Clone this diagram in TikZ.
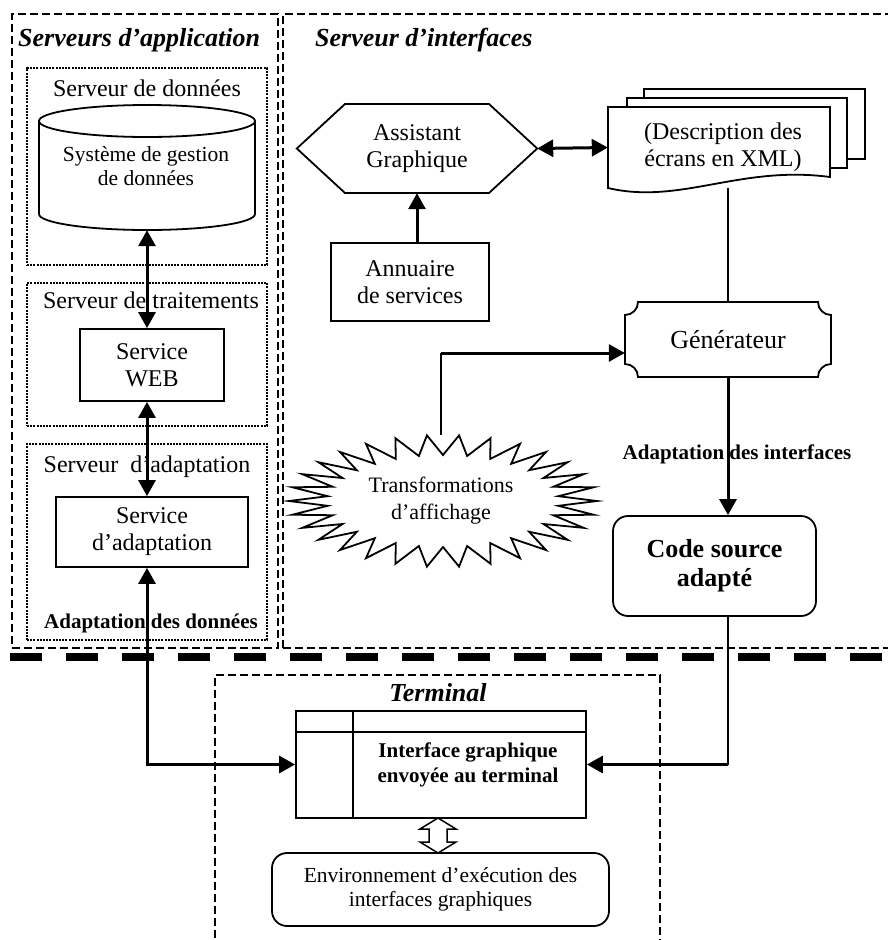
\documentclass[tikz,border=0pt]{standalone}
\usepackage{fontspec}
\setmainfont{Liberation Serif}
\usetikzlibrary{arrows.meta,calc}
\newcommand\fszBody{\fontsize{24pt}{27pt}\selectfont}
\newcommand\fszSmall{\fontsize{21.5pt}{24pt}\selectfont}
\newcommand\fszBurst{\fontsize{22pt}{27pt}\selectfont}
\newcommand\fszBold{\fontsize{21pt}{25pt}\selectfont\bfseries}
\newcommand\fszTitle{\fontsize{26pt}{30pt}\selectfont\bfseries\itshape}
\newcommand\fszGen{\fontsize{26pt}{30pt}\selectfont}
\newcommand\fszCode{\fontsize{26pt}{29pt}\selectfont\bfseries}
\begin{document}
\begin{tikzpicture}[x=1pt,y=-1pt,
  >={Triangle[length=16pt,width=17pt]},
  outer/.style={draw,line width=2.5pt,dash pattern=on 8pt off 4pt,inner sep=0},
  outerline/.style={line width=2.5pt,dash pattern=on 8pt off 4pt},
  dotbox/.style={draw,line width=2pt,dash pattern=on 2pt off 1.2pt,inner sep=0},
  shp/.style={line width=1.8pt},
  box/.style={draw,line width=1.8pt,inner sep=0,align=center,font=\fszBody},
  lbl/.style={inner sep=0,align=center},
  conn/.style={line width=3pt},
  wire/.style={line width=2pt}]
\useasboundingbox (0,0) rectangle (888,940);

% containers
\node[outer,minimum width=266pt,minimum height=634pt] (app) at (145,331) {};
\node[outer,minimum width=612pt,minimum height=634pt] (srv) at (589,331) {};
\draw[outerline] (215,950) -- (215,675) -- (660,675) -- (660,950);
\draw[line width=8pt,dash pattern=on 32pt off 24pt] (10,657) -- (900,657);

% left column
\node[lbl,font=\fszTitle,anchor=west] (tapp) at (18,40) {Serveurs d’application};
\node[dotbox,minimum width=240pt,minimum height=197pt] (sd) at (147,166.5) {};
\node[dotbox,minimum width=240pt,minimum height=143pt] (st) at (147,354.5) {};
\node[dotbox,minimum width=240pt,minimum height=196pt] (sa) at (147,542) {};
\node[lbl,font=\fszBody] (lsd) at (147,88) {Serveur de données};
\node[lbl,font=\fszBody] (lst) at (151,300) {Serveur de traitements};
\node[lbl,font=\fszBody] (lsa) at (147,467) {Serveur\ \ d’adaptation};

\node[inner sep=0,minimum width=216pt,minimum height=125pt] (cyl) at (147,167.5) {};
\draw[shp] (147,121) ellipse [x radius=108pt,y radius=16pt];
\draw[shp] (39,121) -- (39,214) arc[start angle=180,end angle=360,x radius=108pt,y radius=16pt] -- (255,121);
\node[lbl,font=\fszSmall] (cyltxt) at (146,166) {Système de gestion\\de données};

\node[box,minimum width=144pt,minimum height=72pt] (web) at (152,365) {Service\\WEB};
\node[box,minimum width=192pt,minimum height=70pt] (adapt) at (152,532) {Service\\d’adaptation};
\node[lbl,font=\fszBold] (ladd) at (151,623) {Adaptation des données};

% interface server
\node[lbl,font=\fszTitle,anchor=west] (tsrv) at (315,40) {Serveur d’interfaces};
\node[inner sep=0,minimum width=240pt,minimum height=89pt,align=center,font=\fszBody] (hex) at (417,148.5) {Assistant\\Graphique};
\draw[shp] (hex.west) -- (345,104) -- (489,104) -- (hex.east) -- (489,193) -- (345,193) -- cycle;
\node[box,minimum width=158pt,minimum height=78pt] (annu) at (410,282) {Annuaire\\de services};

\draw[shp] (644,98) -- (644,89) -- (865,89) -- (865,159) -- (847,159);
\draw[shp] (627,107) -- (627,98) -- (847,98) -- (847,168) -- (830,168);
\draw[shp,fill=white] (608,188) -- (608,107) -- (830,107) -- (830,177) .. controls (740,165) and (680,205) .. (608,188) -- cycle;
\node[inner sep=0,minimum width=222pt,minimum height=81pt,align=center,font=\fszBody] (doc) at (719,147.5) {\hspace*{8pt}(Description des\\\hspace*{8pt}écrans en XML)};

\draw[shp] (625,315) .. controls (632.2,315) and (638,309.2) .. (638,302) -- (818,302)
  .. controls (818,309.2) and (823.8,315) .. (831,315) -- (831,364)
  .. controls (823.8,364) and (818,369.8) .. (818,377) -- (638,377)
  .. controls (638,369.8) and (632.2,364) .. (625,364) -- cycle;
\node[inner sep=0,minimum width=206pt,minimum height=75pt,font=\fszGen] (gen) at (728,339.5) {Générateur};

\node[box,rounded corners=15pt,minimum width=203pt,minimum height=100pt,font=\fszCode] (code) at (714.5,566) {Code source\\adapté};

\draw[shp,line join=miter] plot[samples at={0,...,59}] ({443+(154-38*mod(\x,2))*cos(\x*6)},{501+(66-20*mod(\x,2))*sin(\x*6)}) -- cycle;
\node[inner sep=0,minimum width=309pt,minimum height=132pt,align=center,font=\fszBurst] (burst) at (441,501) {Transformations\\d’affichage};
\node[lbl,font=\fszBold] (lint) at (737,454) {Adaptation des interfaces};

% terminal
\node[lbl,font=\fszTitle] (tterm) at (438,693) {Terminal};
\node[draw,shp,inner sep=0,minimum width=290pt,minimum height=107pt] (iface) at (441,764.5) {};
\draw[shp] (296,732) -- (586,732) (353,711) -- (353,818);
\node[lbl,font=\fszBold] (ifacetxt) at (468,765) {Interface graphique\\envoyée au terminal};
\node[box,rounded corners=15pt,minimum width=337pt,minimum height=73pt,font=\fszSmall] (env) at (440.5,889.5) {Environnement d’exécution des\\interfaces graphiques};
\coordinate (da) at (438,818);
\coordinate (db) at (438,853);
\draw[line width=1.5pt] (da) -- (456,829) -- (447,829) -- (447,842) -- (456,842) -- (db) -- (420,842) -- (429,842) -- (429,829) -- (420,829) -- cycle;

% connectors
\draw[conn,<->] (cyl.south) -- (cyl.south |- web.north);
\draw[conn,<->] (cyl.south |- web.south) -- (cyl.south |- adapt.north);
\draw[conn,<->] (cyl.south |- adapt.south) |- (iface.west);
\draw[conn,<->] (hex.east) -- (doc.west);
\draw[conn,->] (hex.south |- annu.north) -- (hex.south);
\draw[wire] (gen.north |- doc.south) -- (gen.north);
\coordinate (tk) at (437,353);
\draw[wire] (burst.north) -- (burst.north |- tk);
\draw[conn,->] (burst.north |- tk) -- (gen.west |- tk);
\draw[conn,->] (gen.south) -- (gen.south |- code.north);
\draw[wire] (gen.south |- code.south) -- (gen.south |- iface.east);
\draw[conn,->] (gen.south |- iface.east) -- (iface.east);
\end{tikzpicture}
\end{document}
